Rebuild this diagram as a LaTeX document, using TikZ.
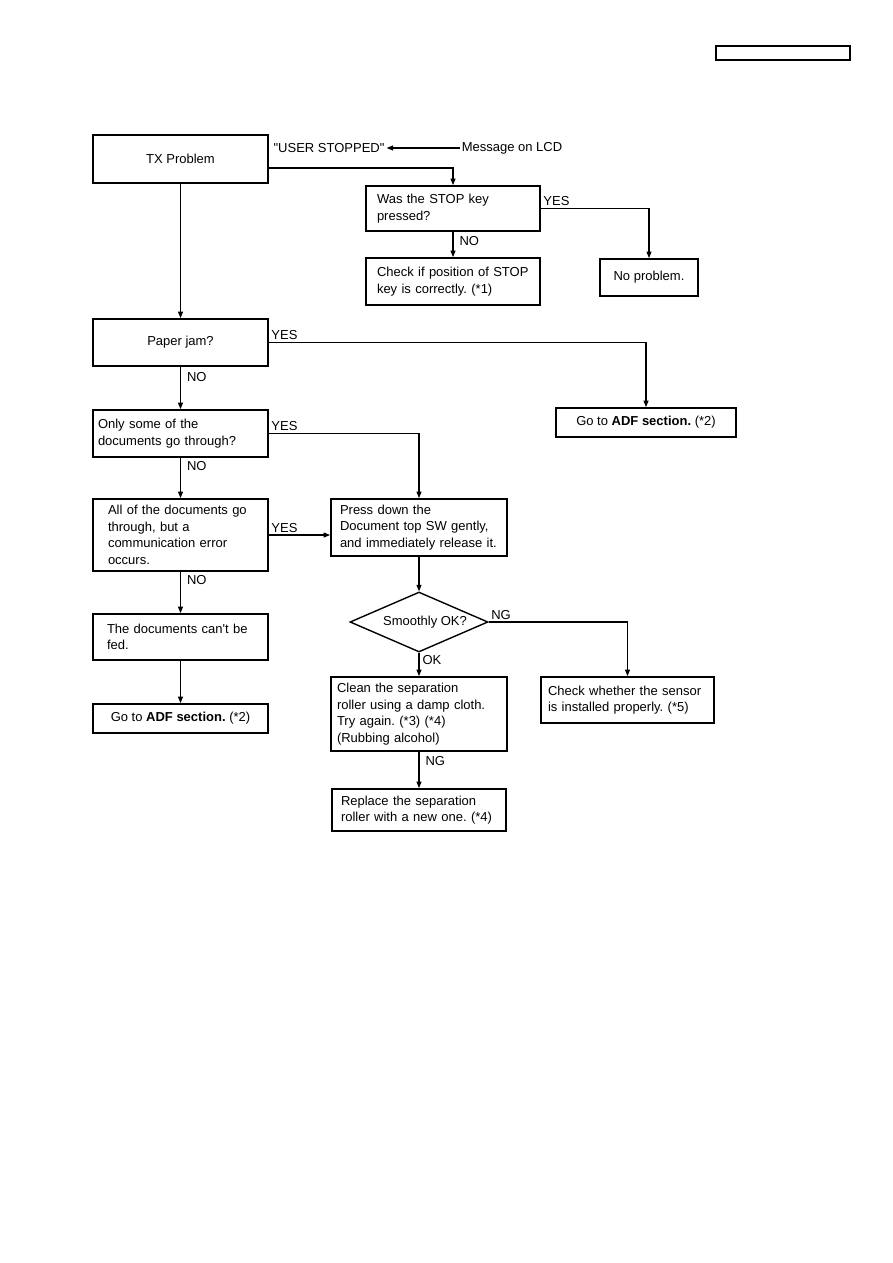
\documentclass[tikz,border=0pt]{standalone}
\usepackage{fontspec}
\setmainfont{Liberation Sans}[Ligatures=TeXOff]
\usetikzlibrary{arrows.meta,positioning,shapes.geometric}

\begin{document}
\begin{tikzpicture}[x=1pt, y=-1pt,
        every node/.style={font=\fontsize{13}{16.5}\selectfont\frenchspacing},
        box/.style={draw, line width=1.8pt, inner sep=0pt, align=center},
        lbox/.style={draw, line width=1.8pt, inner ysep=0pt, align=left},
        tag/.style={inner sep=2pt},
        flow/.style={-{Triangle[length=6.5pt, width=5pt]}, line width=1.1pt}
      ]
      \useasboundingbox (0,0) rectangle (893,1263);
      \node[draw, line width=1.2pt, inner sep=0pt, minimum width=134pt, minimum height=14pt] (hdr) at (783,53) {};

      \node[box, minimum width=175pt, minimum height=48pt] (tx) at (180.5,159) {TX Problem};
      \node[tag] (userstop) at (329,148) {"USER STOPPED"};
      \node[tag] (lcd) at (512,148) {Message on LCD};
      \node[lbox, text width=152pt, inner xsep=11pt, minimum height=45pt] (stopkey) at (453,208.5) {Was the STOP key\\pressed?};
      \node[lbox, text width=152pt, inner xsep=11pt, minimum height=47pt] (stopchk) at (453,281.5) {Check if position of STOP\\key is correctly. (*1)};
      \node[box, minimum width=98pt, minimum height=37pt] (noprob) at (649,277.5) {No problem.};

      \node[box, minimum width=175pt, minimum height=47pt] (jam) at (180.5,342.5) {Paper jam?};
      \node[box, minimum width=180pt, minimum height=29pt] (adfa) at (646,422.5) {Go to \textbf{ADF section.} (*2)};
      \node[lbox, text width=165pt, inner xsep=5pt, minimum height=47pt] (partial) at (180.5,433.5) {Only some of the\\documents go through?};
      \node[lbox, text width=145pt, inner xsep=15pt, minimum height=72pt] (comerr) at (180.5,535) {All of the documents go\\through, but a\\communication error\\occurs.};
      \node[lbox, text width=147pt, inner xsep=14pt, minimum height=46pt] (nofeed) at (180.5,637) {The documents can't be\\fed.};
      \node[box, minimum width=175pt, minimum height=29pt] (adfb) at (180.5,718.5) {Go to \textbf{ADF section.} (*2)};

      \node[lbox, text width=158pt, inner xsep=9pt, minimum height=57pt] (press) at (419,527.5) {Press down the\\Document top SW gently,\\and immediately release it.};
      \node[draw, diamond, aspect=2.3, line width=1.4pt, inner sep=0pt, minimum width=138pt, minimum height=60pt] (smooth) at (419,622) {\hspace*{12pt}Smoothly OK?};
      \node[lbox, text width=159pt, inner xsep=7pt, minimum height=46pt] (sensor) at (627.5,700) {Check whether the sensor\\is installed properly. (*5)};
      \node[lbox, text width=164pt, inner xsep=6pt, minimum height=74pt] (clean) at (419,714) {Clean the separation\\roller using a damp cloth.\\Try again. (*3) (*4)\\(Rubbing alcohol)};
      \node[lbox, text width=156pt, inner xsep=9pt, minimum height=42pt] (replace) at (419,810) {Replace the separation\\roller with a new one. (*4)};

      \draw[flow] (lcd.west) -- (userstop.east);
      \draw[flow] ([yshift=-9pt]tx.east) -| (stopkey.north);
      \draw[flow] (stopkey.east) node[tag, anchor=south west] (yes1) {YES} -| (noprob.north);
      \draw[flow] (stopkey.south) -- node[tag, right=4pt, pos=0.37] (no1) {NO} (stopchk.north);
      \draw[flow] (tx.south) -- (jam.north);
      \draw[flow] (jam.east) node[tag, anchor=south west] (yes2) {YES} -| (adfa.north);
      \draw[flow] (jam.south) -- node[tag, right=4pt, pos=0.25] (no2) {NO} (partial.north);
      \draw[flow] (partial.east) node[tag, anchor=south west] (yes3) {YES} -| (press.north);
      \draw[flow] (partial.south) -- node[tag, right=4pt, pos=0.2] (no3) {NO} (comerr.north);
      \draw[flow] (comerr.east) node[tag, anchor=south west] (yes4) {YES} -- (comerr.east -| press.west);
      \draw[flow] (comerr.south) -- node[tag, right=4pt, pos=0.2] (no4) {NO} (nofeed.north);
      \draw[flow] (nofeed.south) -- (adfb.north);
      \draw[flow] (press.south) -- (smooth.north);
      \draw[flow] (smooth.east) node[tag, anchor=south west] (ng1) {NG} -| (sensor.north);
      \draw[flow] (smooth.south) -- node[tag, right=1pt, pos=0.3] (ok1) {OK} (clean.north);
      \draw[flow] (clean.south) -- node[tag, right=4pt, pos=0.25] (ng2) {NG} (replace.north);
    \end{tikzpicture}
\end{document}
